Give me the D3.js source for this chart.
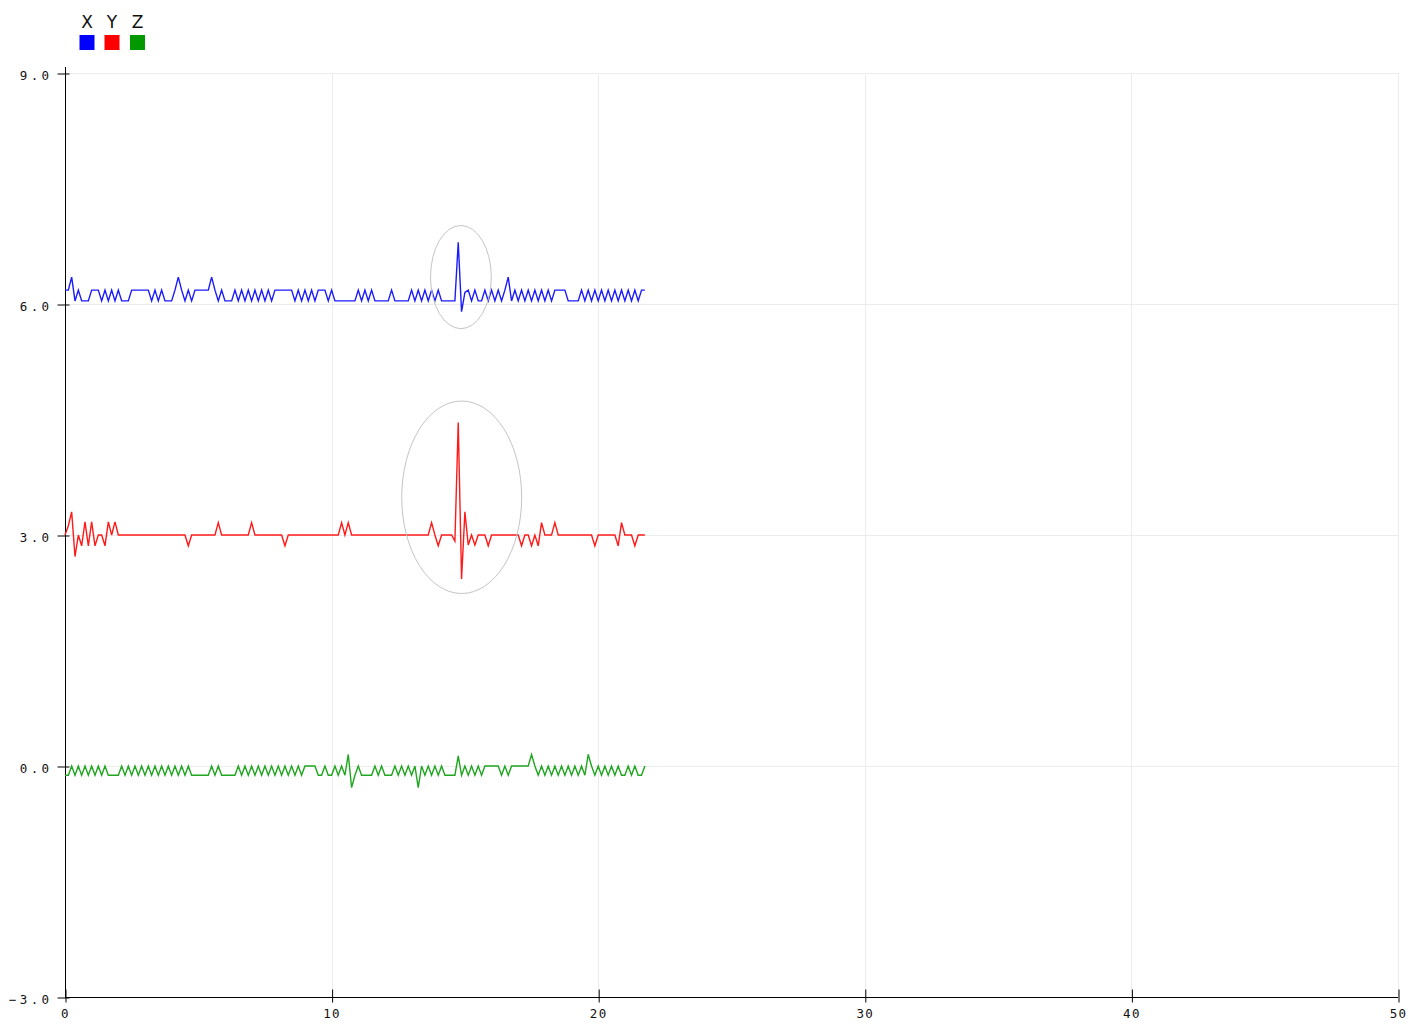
<!DOCTYPE html>
<html>
<head>
<meta charset="utf-8">
<script src="https://cdn.jsdelivr.net/npm/d3@7"></script>
<style>
  html, body { margin: 0; padding: 0; background: #fff; }
  svg { display: block; }
</style>
</head>
<body>
<svg id="chart" width="1418" height="1024"></svg>
<script>
// ---- data ----
const seriesNames = ["X", "Y", "Z"];
const seriesColors = ["#1a1aff", "#ff1a1a", "#1fa51f"];
const legendColors = ["#0000ff", "#ff0000", "#009900"];
const sampleStep = 0.125;            // seconds between samples
const xTicks = [0, 10, 20, 30, 40, 50];
const yTicks = [-3, 0, 3, 6, 9];

const xValues = [
  6.18,6.18,6.35,6.04,6.18,6.04,6.04,6.04,6.18,6.18,
  6.18,6.04,6.18,6.04,6.18,6.04,6.18,6.04,6.04,6.04,
  6.18,6.18,6.18,6.18,6.18,6.18,6.04,6.18,6.04,6.18,
  6.04,6.04,6.04,6.18,6.35,6.18,6.04,6.18,6.04,6.18,
  6.18,6.18,6.18,6.18,6.35,6.18,6.04,6.18,6.04,6.04,
  6.04,6.18,6.04,6.18,6.04,6.18,6.04,6.18,6.04,6.18,
  6.04,6.18,6.04,6.18,6.18,6.18,6.18,6.18,6.18,6.04,
  6.18,6.04,6.18,6.04,6.18,6.04,6.18,6.18,6.18,6.04,
  6.18,6.04,6.04,6.04,6.04,6.04,6.04,6.04,6.18,6.04,
  6.18,6.04,6.18,6.04,6.04,6.04,6.04,6.04,6.18,6.04,
  6.04,6.04,6.04,6.04,6.18,6.04,6.18,6.04,6.18,6.04,
  6.18,6.04,6.18,6.04,6.04,6.04,6.04,6.04,6.80,5.90,
  6.15,6.18,6.04,6.18,6.04,6.04,6.18,6.04,6.18,6.04,
  6.18,6.04,6.18,6.35,6.04,6.18,6.04,6.18,6.04,6.18,
  6.04,6.18,6.04,6.18,6.04,6.18,6.04,6.18,6.18,6.18,
  6.18,6.04,6.04,6.04,6.04,6.18,6.04,6.18,6.04,6.18,
  6.04,6.18,6.04,6.18,6.04,6.18,6.04,6.18,6.04,6.18,
  6.04,6.18,6.04,6.18,6.18
];

const yValues = [
  3.00,3.12,3.30,2.72,3.00,2.86,3.17,2.86,3.17,2.86,
  3.00,3.00,2.86,3.17,3.00,3.17,3.00,3.00,3.00,3.00,
  3.00,3.00,3.00,3.00,3.00,3.00,3.00,3.00,3.00,3.00,
  3.00,3.00,3.00,3.00,3.00,3.00,3.00,2.86,3.00,3.00,
  3.00,3.00,3.00,3.00,3.00,3.00,3.16,3.00,3.00,3.00,
  3.00,3.00,3.00,3.00,3.00,3.00,3.16,3.00,3.00,3.00,
  3.00,3.00,3.00,3.00,3.00,3.00,2.86,3.00,3.00,3.00,
  3.00,3.00,3.00,3.00,3.00,3.00,3.00,3.00,3.00,3.00,
  3.00,3.00,3.00,3.16,3.00,3.16,3.00,3.00,3.00,3.00,
  3.00,3.00,3.00,3.00,3.00,3.00,3.00,3.00,3.00,3.00,
  3.00,3.00,3.00,3.00,3.00,3.00,3.00,3.00,3.00,3.00,
  3.16,3.00,2.86,3.00,3.00,3.00,3.00,2.92,4.46,2.43,
  3.30,2.87,3.00,2.87,3.00,3.00,3.00,2.86,3.00,3.00,
  3.00,3.00,3.00,3.00,3.00,3.00,3.00,2.86,3.00,3.00,
  2.86,3.00,2.86,3.16,3.00,3.00,3.00,3.16,3.00,3.00,
  3.00,3.00,3.00,3.00,3.00,3.00,3.00,3.00,3.00,2.86,
  3.00,3.00,3.00,3.00,3.00,3.00,2.86,3.16,3.00,3.00,
  3.00,2.86,3.00,3.00,3.00
];

const zValues = [
  -0.12,-0.12,0.00,-0.12,0.00,-0.12,0.00,-0.12,0.00,-0.12,
  0.00,-0.12,0.00,-0.12,-0.12,-0.12,-0.12,0.00,-0.12,0.00,
  -0.12,0.00,-0.12,0.00,-0.12,0.00,-0.12,0.00,-0.12,0.00,
  -0.12,0.00,-0.12,0.00,-0.12,0.00,-0.12,0.00,-0.12,-0.12,
  -0.12,-0.12,-0.12,-0.12,0.00,-0.12,0.00,-0.12,-0.12,-0.12,
  -0.12,-0.12,0.00,-0.12,0.00,-0.12,0.00,-0.12,0.00,-0.12,
  0.00,-0.12,0.00,-0.12,0.00,-0.12,0.00,-0.12,0.00,-0.12,
  0.00,-0.12,0.00,0.00,0.00,0.00,-0.12,-0.12,0.00,-0.12,
  -0.12,0.00,-0.12,0.00,-0.12,0.15,-0.28,-0.12,0.00,-0.12,
  -0.12,-0.12,-0.12,0.00,-0.12,0.00,-0.12,-0.12,-0.12,0.00,
  -0.12,0.00,-0.12,0.00,-0.12,0.00,-0.28,0.00,-0.12,0.00,
  -0.12,0.00,-0.12,0.00,-0.12,-0.12,-0.12,-0.12,0.13,-0.12,
  0.00,-0.12,0.00,-0.12,0.00,-0.12,0.00,0.00,0.00,0.00,
  0.00,-0.12,0.00,-0.12,0.00,0.00,0.00,0.00,0.00,0.00,
  0.15,0.00,-0.12,0.00,-0.12,0.00,-0.12,0.00,-0.12,0.00,
  -0.12,0.00,-0.12,0.00,-0.12,0.00,-0.12,0.15,0.00,-0.12,
  0.00,-0.12,0.00,-0.12,0.00,-0.12,0.00,-0.12,-0.12,0.00,
  -0.12,0.00,-0.12,-0.12,0.00
];

// annotation ellipses (data coordinates: centre t, centre value, radius t, radius value)
const highlightCx = [14.85, 14.88];
const highlightCy = [6.35, 3.49];
const highlightRx = [1.14, 2.25];
const highlightRy = [0.67, 1.25];

// ---- drawing ----
const W = 1418, H = 1024;
const margin = { left: 65, right: 20, top: 73, bottom: 27 };
const svg = d3.select("#chart");

const x = d3.scaleLinear().domain([0, 50]).range([margin.left, W - margin.right]);
const y = d3.scaleLinear().domain([-3, 9]).range([H - margin.bottom, margin.top]);

// grid
const grid = svg.append("g").attr("stroke", "#ececec").attr("stroke-width", 1);
grid.selectAll("line.v").data(xTicks.filter(d => d > 0)).join("line")
  .attr("x1", d => Math.round(x(d)) + 0.5).attr("x2", d => Math.round(x(d)) + 0.5)
  .attr("y1", y(9)).attr("y2", y(-3));
grid.selectAll("line.h").data(yTicks.filter(d => d > -3)).join("line")
  .attr("y1", d => Math.round(y(d)) + 0.5).attr("y2", d => Math.round(y(d)) + 0.5)
  .attr("x1", x(0)).attr("x2", x(50));

// axes
const xAxis = d3.axisBottom(x).tickValues(xTicks).tickFormat(d3.format("d")).tickSize(0).tickPadding(0);
const yAxis = d3.axisLeft(y).tickValues(yTicks).tickFormat(d3.format(".1f")).tickSize(0).tickPadding(0);

const gx = svg.append("g").attr("transform", `translate(0,${Math.round(y(-3)) + 0.5})`).call(xAxis);
gx.select(".domain").remove();
gx.selectAll(".tick line").remove();
gx.selectAll(".tick").append("line")
  .attr("x1", 0.5).attr("x2", 0.5).attr("y1", -8).attr("y2", 5).attr("stroke", "#000");
gx.selectAll(".tick text")
  .attr("y", 12).attr("dy", "0.71em")
  .attr("font-family", "'DejaVu Sans Mono', monospace").attr("font-size", 12.5)
  .attr("letter-spacing", 1.3).attr("fill", "#111");

const gy = svg.append("g").attr("transform", `translate(${Math.round(x(0)) + 0.5},0)`).call(yAxis);
gy.select(".domain").remove();
gy.selectAll(".tick line").remove();
gy.selectAll(".tick").append("line")
  .attr("x1", -8).attr("x2", 4).attr("y1", 0.5).attr("y2", 0.5).attr("stroke", "#000");
gy.selectAll(".tick text")
  .attr("x", -13).attr("dy", "0.5em")
  .attr("font-family", "'DejaVu Sans Mono', monospace").attr("font-size", 12.5)
  .attr("letter-spacing", 3.4).attr("fill", "#111");

// axis lines
svg.append("line").attr("x1", Math.round(x(0)) + 0.5).attr("x2", Math.round(x(0)) + 0.5)
  .attr("y1", 67).attr("y2", y(-3)).attr("stroke", "#000");
svg.append("line").attr("x1", x(0)).attr("x2", x(50))
  .attr("y1", Math.round(y(-3)) + 0.5).attr("y2", Math.round(y(-3)) + 0.5).attr("stroke", "#000");

// series
const allSeries = [xValues, yValues, zValues];
const line = d3.line().x((d, i) => x(i * sampleStep)).y(d => y(d));
svg.append("g").selectAll("path").data(allSeries).join("path")
  .attr("d", d => line(d))
  .attr("fill", "none")
  .attr("stroke", (d, i) => seriesColors[i])
  .attr("stroke-width", 1.4)
  .attr("stroke-linejoin", "miter");

// highlight ellipses
svg.append("g").selectAll("ellipse").data(highlightCx).join("ellipse")
  .attr("cx", d => x(d))
  .attr("cy", (d, i) => y(highlightCy[i]))
  .attr("rx", (d, i) => x(highlightRx[i]) - x(0))
  .attr("ry", (d, i) => y(0) - y(highlightRy[i]))
  .attr("fill", "none").attr("stroke", "#c4c4c4").attr("stroke-width", 1);

// legend
const legend = svg.append("g");
const legendX = [87, 112, 137.5];
legend.selectAll("text").data(seriesNames).join("text")
  .attr("x", (d, i) => legendX[i]).attr("y", 28)
  .attr("text-anchor", "middle")
  .attr("font-family", "'DejaVu Sans', sans-serif").attr("font-size", 17)
  .attr("fill", "#111")
  .text(d => d);
legend.selectAll("rect").data(seriesNames).join("rect")
  .attr("x", (d, i) => legendX[i] - 7.5).attr("y", 35)
  .attr("width", 15).attr("height", 15)
  .attr("fill", (d, i) => legendColors[i]);
</script>
</body>
</html>
